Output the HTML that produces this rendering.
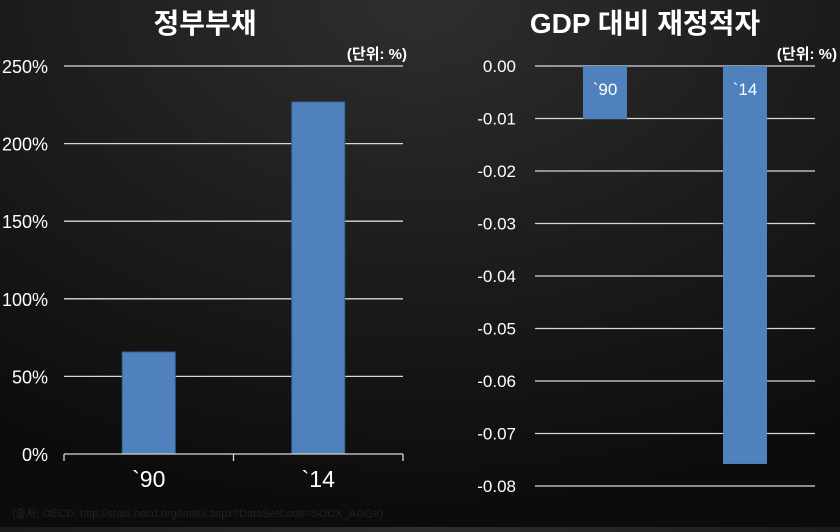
<!DOCTYPE html>
<html><head><meta charset="utf-8">
<style>
html,body{margin:0;padding:0;}
body{width:840px;height:527px;overflow:hidden;background:radial-gradient(ellipse 900px 600px at 50% 0%,#2e2e2e 0%,#1a1a1a 50%,#0c0c0c 85%);font-family:"Liberation Sans","Noto Sans CJK KR",sans-serif;}
svg text{font-family:"Liberation Sans","Noto Sans CJK KR",sans-serif;}
</style></head><body>
<svg width="840" height="527">
<g id="left"></g>
<g id="right"></g>
<text x="383" y="517" fill="#222" font-size="11" text-anchor="end">(출처: OECD, http://stats.oecd.org/Index.aspx?DataSetCode=SOCX_AGG#)</text>
</svg>
<script>
const debtCategories=["`90","`14"];
const debtValues=[65.7,226.8];
const debtTicks=[0,50,100,150,200,250];
const deficitCategories=["`90","`14"];
const deficitValues=[-0.0101,-0.0758];
const deficitTicks=[0,-0.01,-0.02,-0.03,-0.04,-0.05,-0.06,-0.07,-0.08];
const NS="http://www.w3.org/2000/svg";
function mk(p,t,a,txt){const e=document.createElementNS(NS,t);for(const k in a)e.setAttribute(k,a[k]);if(txt!==undefined)e.textContent=txt;p.appendChild(e);return e;}
// left
(function(){
const g=document.getElementById('left');
const x0=64,x1=403,yb=454,yt=66;
const y=v=>yb-(v-0)/(250-0)*(yb-yt);
const t=mk(g,'text',{x:205,y:33,fill:'#fff','font-size':28,'font-weight':'bold','text-anchor':'middle'},'정부부채');

const u=mk(g,'text',{x:407,y:59,fill:'#fff','font-size':15,'font-weight':'bold','text-anchor':'end'},'(단위: %)');

debtTicks.forEach(v=>{
 if(v>0){const l=mk(g,'line',{x1:x0,x2:x1,y1:y(v),y2:y(v),stroke:'#d8d8d8','stroke-width':1.3});}
 const tx=mk(g,'text',{x:48,y:y(v)+7,fill:'#fff','font-size':18,'text-anchor':'end'},v+'%');
 
});
const bw=(x1-x0)/debtCategories.length;
debtCategories.forEach((c,i)=>{
 const cx=x0+bw*(i+0.5);
 const r=mk(g,'rect',{x:cx-26.5,y:y(debtValues[i]),width:53,height:yb-y(debtValues[i]),fill:'#4f81bd',stroke:'#3a6394','stroke-width':1});
 
 const tl=mk(g,'text',{x:cx,y:487,fill:'#fff','font-size':23,'text-anchor':'middle'},c);
 
});
const ax=mk(g,'path',{d:`M${x0},${yb}H${x1}M${x0},${yb}v7M${x0+bw},${yb}v7M${x1},${yb}v7`,stroke:'#d8d8d8','stroke-width':1.3,fill:'none'});

})();
// right
(function(){
const g=document.getElementById('right');
const x0=535,x1=815,yt=66,yb=486;
const y=v=>yt+(0-v)/(0.08)*(yb-yt);
const t=mk(g,'text',{x:645,y:33,fill:'#fff','font-size':28,'font-weight':'bold','text-anchor':'middle'},'GDP 대비 재정적자');

const u=mk(g,'text',{x:837,y:59,fill:'#fff','font-size':15,'font-weight':'bold','text-anchor':'end'},'(단위: %)');

deficitTicks.forEach(v=>{
 const l=mk(g,'line',{x1:x0,x2:x1,y1:y(v),y2:y(v),stroke:'#d8d8d8','stroke-width':1.3});
 const tx=mk(g,'text',{x:516,y:y(v)+6,fill:'#fff','font-size':17,'text-anchor':'end'},v.toFixed(2));
 
});
const bw=(x1-x0)/deficitCategories.length;
deficitCategories.forEach((c,i)=>{
 const cx=x0+bw*(i+0.5);
 const r=mk(g,'rect',{x:cx-22,y:yt,width:44,height:y(deficitValues[i])-yt,fill:'#4f81bd'});
 
 const tl=mk(g,'text',{x:cx,y:95,fill:'#fff','font-size':17,'text-anchor':'middle'},c);
 
});
})();
</script>
</body></html>
